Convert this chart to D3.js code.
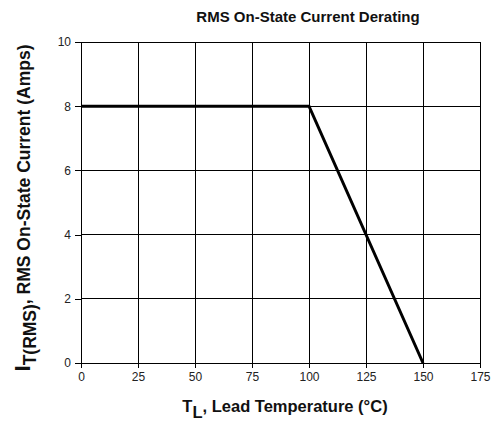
<!DOCTYPE html>
<html>
<head>
<meta charset="utf-8">
<script src="https://cdn.jsdelivr.net/npm/d3@7"></script>
<style>
  body { margin: 0; background: #fff; }
  text { font-family: "Liberation Sans", Arial, sans-serif; }
</style>
</head>
<body>
<svg id="chart" width="494" height="423"></svg>
<script>
// data
const tempValues = [0, 100, 150]
const currentValues = [8, 8, 0]
const xTicks = [0, 25, 50, 75, 100, 125, 150, 175]
const yTicks = [0, 2, 4, 6, 8, 10]

const width = 494
const height = 423
const margin = { top: 42, right: 14, bottom: 60, left: 81 }

const svg = d3.select('#chart')

const x = d3.scaleLinear().domain([0, 175]).range([margin.left, width - margin.right])
const y = d3.scaleLinear().domain([0, 10]).range([height - margin.bottom, margin.top])

// grid lines
svg.append('g')
  .selectAll('line')
  .data(xTicks)
  .join('line')
  .attr('x1', d => x(d)).attr('x2', d => x(d))
  .attr('y1', y(10)).attr('y2', y(0))
  .attr('stroke', '#000').attr('stroke-width', 1)
  .attr('shape-rendering', 'crispEdges')

svg.append('g')
  .selectAll('line')
  .data(yTicks)
  .join('line')
  .attr('x1', x(0)).attr('x2', x(175))
  .attr('y1', d => y(d)).attr('y2', d => y(d))
  .attr('stroke', '#000').attr('stroke-width', 1)
  .attr('shape-rendering', 'crispEdges')

// axes
const xAxis = svg.append('g')
  .attr('transform', `translate(0,${y(0)})`)
  .call(d3.axisBottom(x).tickValues(xTicks).tickSize(5).tickPadding(4))
const yAxis = svg.append('g')
  .attr('transform', `translate(${x(0)},0)`)
  .call(d3.axisLeft(y).tickValues(yTicks).tickSize(6).tickPadding(4))

;[xAxis, yAxis].forEach(a => {
  a.select('.domain').remove()
  a.selectAll('line').attr('stroke', '#000').attr('shape-rendering', 'crispEdges')
  a.selectAll('text')
    .attr('font-size', 12)
    .attr('fill', '#222')
    .style('font-family', '"Liberation Sans", Arial, sans-serif')
})

// derating curve
const line = d3.line()
  .x((d, i) => x(tempValues[i]))
  .y(d => y(d))

svg.append('path')
  .datum(currentValues)
  .attr('d', line)
  .attr('fill', 'none')
  .attr('stroke', '#000')
  .attr('stroke-width', 3)

// title
svg.append('text')
  .attr('x', 308)
  .attr('y', 22)
  .attr('text-anchor', 'middle')
  .attr('font-size', 15)
  .attr('font-weight', 'bold')
  .attr('fill', '#111')
  .text('RMS On-State Current Derating')

// x label
const xl = svg.append('text')
  .attr('x', 285)
  .attr('y', 412)
  .attr('text-anchor', 'middle')
  .attr('font-size', 16.5)
  .attr('font-weight', 'bold')
  .attr('fill', '#111')
xl.append('tspan').text('T')
xl.append('tspan').attr('baseline-shift', '-6').text('L')
xl.append('tspan').text(', Lead Temperature (°C)')

// y label
const yl = svg.append('text')
  .attr('transform', `translate(30,208) rotate(-90)`)
  .attr('text-anchor', 'middle')
  .attr('font-size', 17.5)
  .attr('font-weight', 'bold')
  .attr('fill', '#111')
yl.append('tspan').attr('font-size', 22).text('I')
yl.append('tspan').attr('baseline-shift', '-6').text('T(RMS)')
yl.append('tspan').text(', RMS On-State Current (Amps)')
</script>
</body>
</html>
